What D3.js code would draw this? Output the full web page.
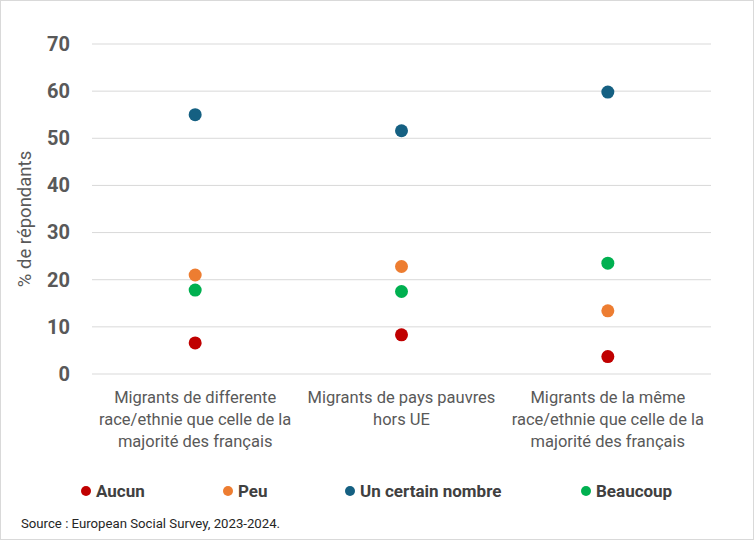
<!DOCTYPE html>
<html><head><meta charset="utf-8">
<script src="https://cdn.jsdelivr.net/npm/d3@7"></script>
<style>
html,body{margin:0;padding:0;background:#fff;}
svg{display:block;}
</style></head>
<body>
<script>
const categories = [
  ["Migrants de differente", "race/ethnie que celle de la", "majorité des français"],
  ["Migrants de pays pauvres", "hors UE"],
  ["Migrants de la même", "race/ethnie que celle de la", "majorité des français"]
];
const seriesNames = ["Aucun", "Peu", "Un certain nombre", "Beaucoup"];
const seriesColors = ["#C00000", "#ED7D31", "#156082", "#00B050"];
const aucun = [6.6, 8.3, 3.7];
const peu = [21.0, 22.8, 13.4];
const unCertainNombre = [55.0, 51.6, 59.8];
const beaucoup = [17.8, 17.5, 23.5];
const yTicks = [0, 10, 20, 30, 40, 50, 60, 70];
const legendX = [86, 228, 350, 586];

const W = 754, H = 540;
const svg = d3.select("body").append("svg").attr("width", W).attr("height", H);
svg.append("rect").attr("x", 0.5).attr("y", 0.5).attr("width", W - 1).attr("height", H - 1)
  .attr("fill", "#fff").attr("stroke", "#d9d9d9");

const x = d3.scaleBand().domain(d3.range(categories.length)).range([92, 711]);
const y = d3.scaleLinear().domain([0, 70]).range([374, 44]);

// gridlines
svg.append("g").selectAll("line").data(yTicks).join("line")
  .attr("x1", 92).attr("x2", 711)
  .attr("y1", d => y(d)).attr("y2", d => y(d))
  .attr("stroke", "#d9d9d9").attr("stroke-width", 1);

// y axis
const yAxis = d3.axisLeft(y).tickValues(yTicks).tickSize(0).tickPadding(0);
const gy = svg.append("g").attr("transform", "translate(70,0)").call(yAxis);
gy.select(".domain").remove();
gy.selectAll("text").attr("font-family", "Roboto, 'Liberation Sans', sans-serif")
  .attr("font-weight", "bold").attr("font-size", 20).attr("fill", "#595959");

// y title
svg.append("text").attr("transform", "translate(31,219) rotate(-90)")
  .attr("text-anchor", "middle").attr("font-family", "Roboto, 'Liberation Sans', sans-serif")
  .attr("font-size", 18.5).attr("fill", "#595959").text("% de répondants");

// category labels
categories.forEach((lines, i) => {
  const t = svg.append("text").attr("text-anchor", "middle")
    .attr("font-family", "'Liberation Sans Narrow', 'Roboto', sans-serif")
    .attr("font-size", 16.5).attr("fill", "#595959");
  lines.forEach((l, j) => {
    t.append("tspan").attr("x", x(i) + x.bandwidth() / 2).attr("y", 403 + j * 22).text(l);
  });
});

// points
const allSeries = [aucun, peu, unCertainNombre, beaucoup];
allSeries.forEach((vals, s) => {
  svg.append("g").selectAll("circle").data(vals).join("circle")
    .attr("cx", (d, i) => x(i) + x.bandwidth() / 2)
    .attr("cy", d => y(d))
    .attr("r", 6.5)
    .attr("fill", seriesColors[s]);
});

// legend
seriesNames.forEach((n, i) => {
  svg.append("circle").attr("cx", legendX[i]).attr("cy", 491).attr("r", 5).attr("fill", seriesColors[i]);
  svg.append("text").attr("x", legendX[i] + 10).attr("y", 497)
    .attr("font-family", "'Liberation Sans Narrow', 'Roboto', sans-serif")
    .attr("font-weight", "bold").attr("font-size", 17).attr("fill", "#404040").text(n);
});

// source
svg.append("text").attr("x", 21).attr("y", 528)
  .attr("font-family", "'Liberation Sans Narrow', 'Roboto', sans-serif")
  .attr("font-size", 13.2).attr("fill", "#262626").text("Source : European Social Survey, 2023-2024.");
</script>
</body></html>
